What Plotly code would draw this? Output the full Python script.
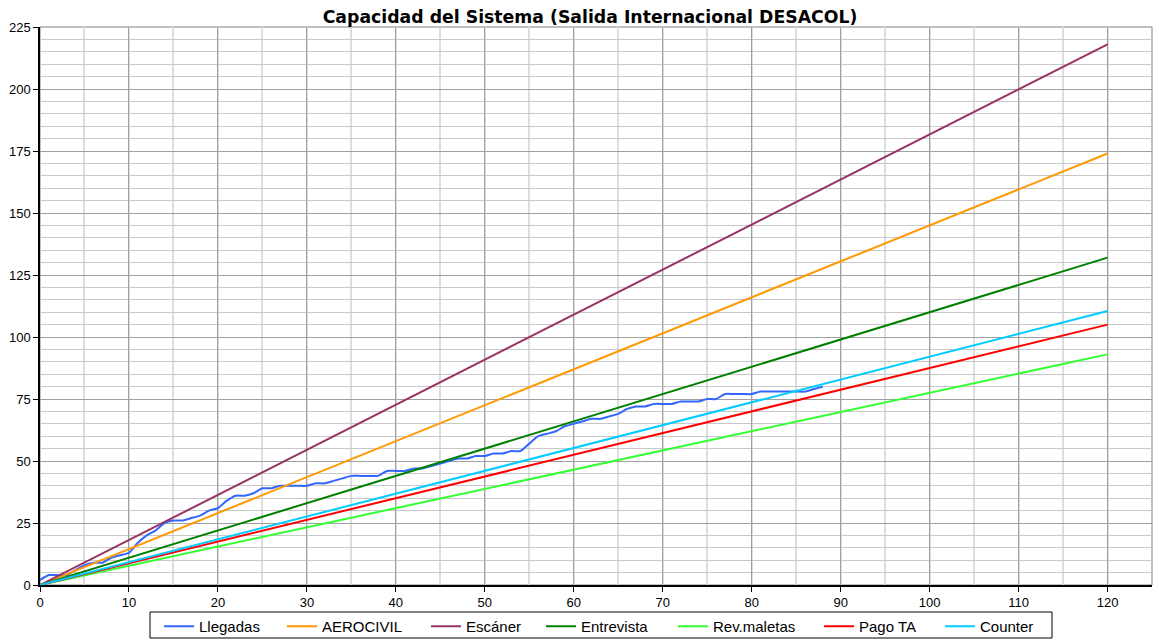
import plotly.graph_objects as go

# ---- data ----
minutes = list(range(0, 89))
llegadas = [2, 4, 4, 4, 6, 8, 9, 9, 11, 12,
            13, 17, 20, 22, 25, 26, 26, 27, 28, 30,
            31, 34, 36, 36, 37, 39, 39, 40, 40, 40,
            40, 41, 41, 42, 43, 44, 44, 44, 44, 46,
            46, 46, 47, 47, 48, 49, 50, 51, 51, 52,
            52, 53, 53, 54, 54, 57, 60, 61, 62, 64,
            65, 66, 67, 67, 68, 69, 71, 72, 72, 73,
            73, 73, 74, 74, 74, 75, 75, 77, 77, 77,
            77, 78, 78, 78, 78, 78, 78, 79, 80]

cap_x = [0, 120]
aerocivil = [0, 174]
escaner = [0, 218]
entrevista = [0, 132]
rev_maletas = [0, 93]
pago_ta = [0, 105]
counter = [0, 110.5]

x_ticks = list(range(0, 121, 10))
y_ticks = list(range(0, 226, 25))

W, H = 1159, 641
# pixel position of each legend entry's line start (layout, not data)
legend_px = [166, 289, 433, 548, 680, 826, 947]

series = [
    ("Llegadas", minutes, llegadas, "#3366FF"),
    ("AEROCIVIL", cap_x, aerocivil, "#FF9900"),
    ("Escáner", cap_x, escaner, "#993366"),
    ("Entrevista", cap_x, entrevista, "#008000"),
    ("Rev.maletas", cap_x, rev_maletas, "#33FF33"),
    ("Pago TA", cap_x, pago_ta, "#FF0000"),
    ("Counter", cap_x, counter, "#00CCFF"),
]

fig = go.Figure()
legends = {}
for i, (name, xs, ys, col) in enumerate(series):
    key = "legend" if i == 0 else f"legend{i + 1}"
    line = dict(color=col, width=2)
    if name == "Llegadas":
        line.update(shape="spline", smoothing=0.6)
    fig.add_trace(go.Scatter(x=xs, y=ys, name=name, mode="lines", line=line, legend=key))
    legends[key] = dict(xref="container", yref="container",
                        x=(legend_px[i] - 7) / W, xanchor="left",
                        y=1 - 610 / H, yanchor="top",
                        borderwidth=0, bgcolor="rgba(0,0,0,0)",
                        font=dict(size=15), itemwidth=30)

plot_l, plot_r, plot_t, plot_b = 40, 1152, 27, 585
pw, ph = plot_r - plot_l, plot_b - plot_t

fig.update_layout(
    width=W, height=H,
    margin=dict(l=plot_l, r=W - plot_r, t=plot_t, b=H - plot_b, autoexpand=False),
    paper_bgcolor="white", plot_bgcolor="white",
    font=dict(family="Liberation Sans, Arial, sans-serif", size=13, color="black"),
    title=dict(text="<b>Capacidad del Sistema (Salida Internacional DESACOL)</b>",
               font=dict(family="DejaVu Sans, Verdana, sans-serif", size=17.3, color="black"),
               x=590 / W, xanchor="center", y=1 - 17 / H, yanchor="middle",
               xref="container", yref="container"),
    showlegend=True,
    shapes=[
        dict(type="rect", xref="paper", yref="paper", x0=0, y0=0, x1=1, y1=1,
             line=dict(color="#808080", width=1), layer="below"),
        dict(type="rect", xref="paper", yref="paper",
             x0=(150 - plot_l) / pw, x1=(1052 - plot_l) / pw,
             y0=(plot_b - 638) / ph, y1=(plot_b - 612) / ph,
             line=dict(color="black", width=1), fillcolor="rgba(0,0,0,0)"),
    ],
    **legends,
)
fig.update_xaxes(range=[0, 125], tickvals=x_ticks, showgrid=True, gridcolor="#A0A0A0",
                 gridwidth=1, showline=True, linecolor="black", linewidth=1.5,
                 ticks="outside", ticklen=5, tickcolor="black", zeroline=False,
                 automargin=False,
                 minor=dict(dtick=5, tick0=0, showgrid=True, gridcolor="#DDDDDD", gridwidth=2))
fig.update_yaxes(range=[0, 225], tickvals=y_ticks, showgrid=True, gridcolor="#A0A0A0",
                 gridwidth=1, showline=True, linecolor="black", linewidth=1.5,
                 ticks="outside", ticklen=5, tickcolor="black", zeroline=False,
                 automargin=False,
                 minor=dict(dtick=5, tick0=0, showgrid=True, gridcolor="#C8C8C8", gridwidth=1))

fig.write_html("out.html", config={"displayModeBar": False},
               post_script="document.body.style.margin='0';document.body.style.overflow='hidden';")
